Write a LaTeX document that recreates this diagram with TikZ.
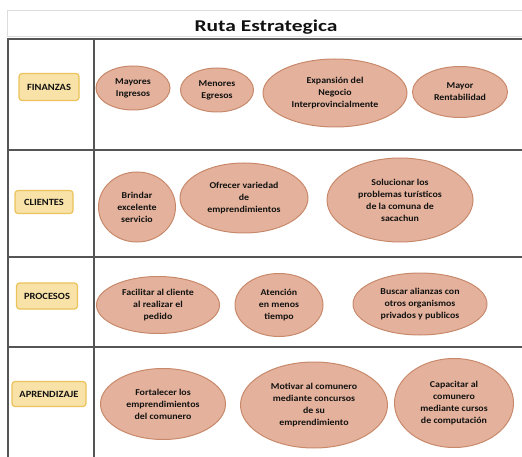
\documentclass[tikz,border=0pt]{standalone}
\usepackage{fontspec}
\setmainfont{Carlito}
\newfontfamily\titlefont[FakeStretch=1.3]{Carlito}
\newfontfamily\efont[FakeStretch=1.1]{Carlito}
\usetikzlibrary{shapes.geometric}
\definecolor{ellfill}{HTML}{E4B29C}
\definecolor{elldraw}{HTML}{C8896B}
\definecolor{labfill}{HTML}{F8E2A8}
\definecolor{labdraw}{HTML}{EBC35A}
\definecolor{gridline}{HTML}{555555}
\definecolor{lightline}{HTML}{DDDDDD}
\definecolor{txt}{HTML}{111111}
\tikzset{
  ell/.style={ellipse, draw=elldraw, fill=ellfill, line width=1pt, inner sep=0pt,
    align=center, text=txt, font=\efont\bfseries\fontsize{9}{12}\selectfont},
  lab/.style={rectangle, rounded corners=3pt, draw=labdraw, fill=labfill, line width=1.2pt,
    inner sep=0pt, text=txt, font=\efont\bfseries\fontsize{9.5}{11}\selectfont},
  grid/.style={draw=gridline, line width=2pt},
}
\begin{document}
\begin{tikzpicture}[x=1pt,y=-1pt]
\useasboundingbox (0,0) rectangle (522,457);
% title cell
\draw[lightline, line width=1pt] (530,11) -- (7,11) -- (7,37) -- (530,37);
\node[font=\titlefont\bfseries\fontsize{16.5}{18}\selectfont, text=txt] (title) at (266,27) {Ruta Estrategica};
% grid
\draw[grid] (7,39) -- (530,39);
\draw[grid] (7,150) -- (530,150);
\draw[grid] (7,257) -- (530,257);
\draw[grid] (7,347) -- (530,347);
\draw[grid] (8,38) -- (8,460);
\draw[grid] (94,38) -- (94,460);
% labels
\node[lab, minimum width=60pt, minimum height=27pt] (fin) at (49,87) {FINANZAS};
\node[lab, minimum width=58pt, minimum height=23pt] (cli) at (44,202) {CLIENTES};
\node[lab, minimum width=61pt, minimum height=26pt] (pro) at (47,296) {PROCESOS};
\node[lab, minimum width=74pt, minimum height=25pt] (apr) at (49,394) {APRENDIZAJE};
% row 1
\node[ell, minimum width=74pt, minimum height=44pt] (e11) at (133,88) {Mayores\\Ingresos};
\node[ell, minimum width=73pt, minimum height=44pt] (e12) at (217,90) {Menores\\Egresos};
\node[ell, minimum width=144pt, minimum height=68pt] (e13) at (335,93) {Expansión del\\Negocio\\Interprovincialmente};
\node[ell, minimum width=95pt, minimum height=51pt] (e14) at (460,92) {Mayor\\Rentabilidad};
% row 2
\node[ell, minimum width=77pt, minimum height=70pt] (e21) at (137,207) {Brindar\\excelente\\servicio};
\node[ell, minimum width=128pt, minimum height=70pt] (e22) at (244,198) {Ofrecer variedad\\de\\emprendimientos};
\node[ell, minimum width=146pt, minimum height=84pt] (e23) at (400,200) {Solucionar los\\problemas turísticos\\de la comuna de\\sacachun};
% row 3
\node[ell, minimum width=123pt, minimum height=57pt] (e31) at (158,305) {Facilitar al cliente\\al realizar el\\pedido};
\node[ell, minimum width=88pt, minimum height=63pt] (e32) at (279,305) {Atención\\en menos\\tiempo};
\node[ell, minimum width=134pt, minimum height=62pt] (e33) at (420,304) {Buscar alianzas con\\otros organismos\\privados y publicos};
% row 4
\node[ell, minimum width=125pt, minimum height=71pt] (e41) at (163,404) {Fortalecer los\\emprendimientos\\del comunero};
\node[ell, minimum width=147pt, minimum height=86pt] (e42) at (314,405) {Motivar al comunero\\mediante concursos\\de su\\emprendimiento};
\node[ell, minimum width=119pt, minimum height=89pt] (e43) at (454,403) {Capacitar al\\comunero\\mediante cursos\\de computación};
\end{tikzpicture}
\end{document}
